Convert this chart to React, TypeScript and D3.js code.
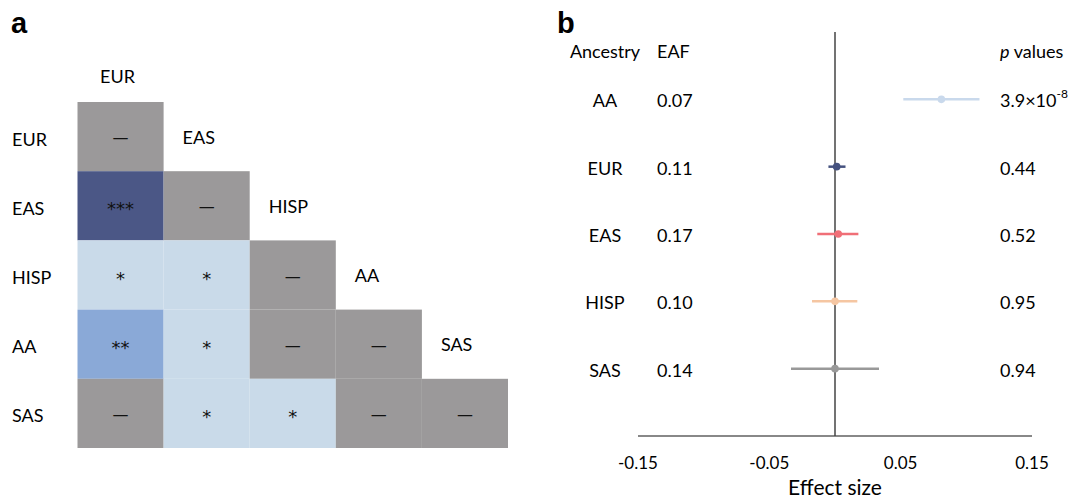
import { scaleBand, scaleLinear, scalePoint } from 'd3';

// panel a: pairwise comparison between ancestries
const ancestries = ['EUR', 'EAS', 'HISP', 'AA', 'SAS'];
// lower triangle, row by row
const significance = [
  ['—'],
  ['***', '—'],
  ['*', '*', '—'],
  ['**', '*', '—', '—'],
  ['—', '*', '*', '—', '—'],
];

// panel b: forest plot
const groups = ['AA', 'EUR', 'EAS', 'HISP', 'SAS'];
const eaf = ['0.07', '0.11', '0.17', '0.10', '0.14'];
const effect = [0.081, 0.0013, 0.0025, 0.0, 0.0];
const lower = [0.052, -0.005, -0.0135, -0.0175, -0.0335];
const upper = [0.11, 0.008, 0.0178, 0.017, 0.0335];
const pValues = ['3.9×10^-8', '0.44', '0.52', '0.95', '0.94'];
const xTicks = [-0.15, -0.05, 0.05, 0.15];

const sigColor: Record<string, string> = {
  '***': '#4b5786',
  '**': '#8aa9d7',
  '*': '#c9dae9',
  '—': '#9b999a',
};
const groupColor = ['#c9d9ec', '#45527f', '#f06f77', '#f5c6a2', '#999999'];

const font = 'Lato, "Open Sans", sans-serif';

export default function App() {
  // heatmap scales
  const cx = scaleBand().domain(ancestries).range([77.5, 508]);
  const cy = scaleBand().domain(ancestries).range([102, 448]);

  // forest scales
  const x = scaleLinear().domain([-0.15, 0.15]).range([638, 1032]);
  const y = scalePoint().domain(groups).range([32, 436]).padding(1);

  return (
    <svg
      width={1075}
      height={501}
      style={{ position: 'absolute', left: 0, top: 0, background: '#fff' }}
      fontFamily={font}
    >
      {/* ---- panel a ---- */}
      <text x={11} y={33} fontSize={29} fontWeight="bold" fontFamily='"Liberation Sans", Arial, sans-serif'>
        a
      </text>
      <text x={cx('EUR')! + cx.bandwidth() / 2 - 3} y={76} fontSize={18} textAnchor="middle" dominantBaseline="central">
        EUR
      </text>
      {ancestries.map((a) => (
        <text key={'r' + a} x={12} y={cy(a)! + cy.bandwidth() / 2 + 2} fontSize={18} dominantBaseline="central">
          {a}
        </text>
      ))}
      {significance.map((row, i) =>
        row.map((s, j) => (
          <g key={i + '-' + j}>
            <rect
              x={cx(ancestries[j])}
              y={cy(ancestries[i])}
              width={cx.bandwidth()}
              height={cy.bandwidth()}
              fill={sigColor[s]}
            />
            <text
              x={cx(ancestries[j])! + cx.bandwidth() / 2}
              y={cy(ancestries[i])! + cy.bandwidth() / 2 + (s === '—' ? 1 : 3)}
              fontSize={s === '—' ? 16 : 18}
              textAnchor="middle"
              dominantBaseline="central"
              fontFamily='"DejaVu Sans", sans-serif'
              fill="#111"
            >
              {s}
            </text>
          </g>
        ))
      )}
      {/* column labels on the diagonal */}
      {ancestries.slice(1).map((a, k) => (
        <text key={'c' + a} x={cx(a)! + 19} y={cy(ancestries[k])! + cy.bandwidth() / 2} fontSize={18} dominantBaseline="central">
          {a}
        </text>
      ))}

      {/* ---- panel b ---- */}
      <text x={557} y={33} fontSize={29} fontWeight="bold" fontFamily='"Liberation Sans", Arial, sans-serif'>
        b
      </text>
      <text x={605} y={51} fontSize={18} textAnchor="middle" dominantBaseline="central">
        Ancestry
      </text>
      <text x={657} y={51} fontSize={18} dominantBaseline="central">
        EAF
      </text>
      <text x={1000} y={51} fontSize={18} dominantBaseline="central">
        <tspan fontStyle="italic">p</tspan> values
      </text>

      {/* axis */}
      <line x1={x(-0.15)} x2={x(0.15)} y1={436} y2={436} stroke="#888" strokeWidth={1.8} />
      <line x1={x(0)} x2={x(0)} y1={32} y2={436} stroke="#444" strokeWidth={1.5} />
      {xTicks.map((t) => (
        <text key={t} x={x(t)} y={462} fontSize={17} textAnchor="middle" dominantBaseline="central">
          {t.toFixed(2)}
        </text>
      ))}
      <text x={x(0)} y={486} fontSize={21} textAnchor="middle" dominantBaseline="central">
        Effect size
      </text>

      {groups.map((g, i) => {
        const [mant, exp] = pValues[i].split('^');
        return (
          <g key={g}>
            <text x={605} y={y(g)! + 1} fontSize={18} textAnchor="middle" dominantBaseline="central">
              {g}
            </text>
            <text x={657} y={y(g)! + 1} fontSize={18} dominantBaseline="central">
              {eaf[i]}
            </text>
            <text x={1000} y={y(g)! + 1} fontSize={18} dominantBaseline="central">
              {mant}
              {exp && (
                <tspan fontSize={12} dy={-7}>
                  {exp}
                </tspan>
              )}
            </text>
            <line x1={x(lower[i])} x2={x(upper[i])} y1={y(g)} y2={y(g)} stroke={groupColor[i]} strokeWidth={2.5} />
            <circle cx={x(effect[i])} cy={y(g)} r={3.8} fill={groupColor[i]} />
          </g>
        );
      })}
    </svg>
  );
}
